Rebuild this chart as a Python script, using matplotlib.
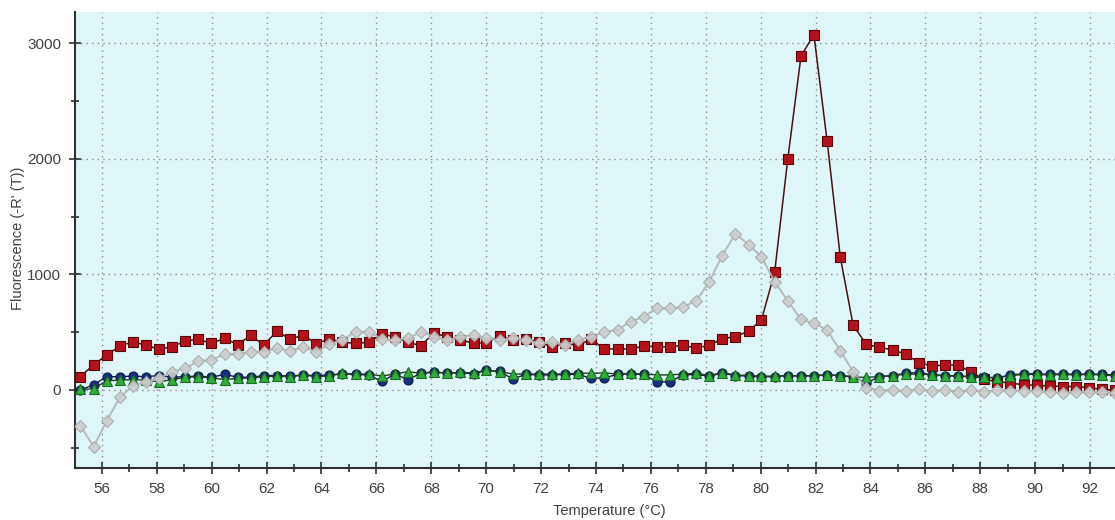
import matplotlib
matplotlib.use("Agg")
import matplotlib.pyplot as plt
from matplotlib.ticker import MultipleLocator, FixedLocator

plt.rcParams['font.family'] = ['Liberation Sans', 'DejaVu Sans']

temperature = [
    55.22, 55.70, 56.17, 56.65, 57.13, 57.61, 58.08, 58.56, 59.04, 59.51,
    59.99, 60.47, 60.95, 61.42, 61.90, 62.38, 62.86, 63.33, 63.81, 64.29,
    64.76, 65.24, 65.72, 66.20, 66.67, 67.15, 67.63, 68.10, 68.58, 69.06,
    69.54, 70.01, 70.49, 70.97, 71.44, 71.92, 72.40, 72.88, 73.35, 73.83,
    74.31, 74.79, 75.26, 75.74, 76.22, 76.69, 77.17, 77.65, 78.13, 78.60,
    79.08, 79.56, 80.03, 80.51, 80.99, 81.47, 81.94, 82.42, 82.90, 83.37,
    83.85, 84.33, 84.81, 85.28, 85.76, 86.24, 86.72, 87.19, 87.67, 88.15,
    88.62, 89.10, 89.58, 90.06, 90.53, 91.01, 91.49, 91.96, 92.44, 92.92,
]

red_sample = [
    115, 219, 300, 380, 418, 386, 352, 374, 424, 438,
    403, 447, 392, 473, 388, 510, 438, 476, 400, 444,
    412, 404, 412, 484, 461, 412, 383, 496, 456, 433,
    404, 409, 467, 433, 438, 418, 369, 404, 386, 440,
    352, 357, 352, 381, 372, 375, 386, 363, 386, 444,
    461, 510, 606, 1018, 2001, 2889, 3074, 2157, 1153, 559,
    395, 369, 346, 311, 236, 208, 215, 216, 153, 92,
    72, 60, 45, 40, 35, 30, 30, 20, 5, 0,
]

grey_sample = [
    -310, -490, -270, -65, 35, 70, 100, 158, 187, 250,
    260, 307, 314, 331, 330, 360, 340, 370, 331, 395,
    432, 504, 504, 438, 432, 447, 504, 461, 432, 456,
    476, 447, 432, 447, 432, 404, 418, 389, 432, 461,
    500, 520, 591, 634, 707, 705, 718, 770, 937, 1163,
    1352, 1258, 1153, 937, 770, 611, 577, 519, 340, 158,
    20, -5, 0, -10, 5, -10, 0, -15, 0, -15,
    0, -5, -5, -10, -20, -25, -20, -15, -20, -25,
]

green_sample = [
    5, 10, 80, 85, 90, 85, 70, 90, 110, 115,
    105, 90, 100, 105, 115, 120, 115, 130, 115, 121,
    144, 138, 138, 121, 138, 158, 144, 158, 144, 153,
    147, 173, 158, 138, 138, 138, 138, 138, 147, 144,
    147, 138, 144, 138, 130, 130, 138, 144, 125, 150,
    130, 125, 120, 120, 125, 120, 125, 130, 125, 110,
    110, 115, 125, 135, 140, 130, 125, 120, 115, 110,
    105, 125, 135, 135, 130, 135, 130, 135, 130, 125,
]

blue_sample = [
    0, 45, 115, 115, 120, 115, 125, 110, 115, 120,
    110, 135, 110, 110, 125, 125, 120, 130, 125, 130,
    140, 135, 130, 75, 135, 90, 145, 155, 145, 150,
    140, 170, 160, 95, 135, 130, 130, 135, 135, 100,
    105, 135, 140, 135, 70, 70, 130, 135, 120, 145,
    125, 120, 115, 115, 125, 120, 125, 130, 125, 115,
    60, 115, 125, 145, 150, 130, 125, 120, 115, 110,
    105, 130, 140, 140, 135, 140, 135, 140, 135, 130,
]

x_major = list(range(56, 93, 2))
y_major = [0, 1000, 2000, 3000]

fig = plt.figure(figsize=(11.15, 5.2), dpi=100)
ax = fig.add_axes([75 / 1115, 52 / 520, 1040 / 1115, 456 / 520])
ax.set_facecolor('#dff6f9')

ax.plot(temperature, red_sample, color='#4a1010', lw=1.1, marker='s', ms=7,
        mfc='#b3121c', mec='#5a0505', mew=0.8, zorder=3)
ax.plot(temperature, blue_sample, color='#1a1a3a', lw=1.0, marker='o', ms=6.5,
        mfc='#14307f', mec='#0a1a50', mew=0.8, zorder=4)
ax.plot(temperature, green_sample, color='#1f3f1f', lw=1.0, marker='^', ms=7.5,
        mfc='#2fae3c', mec='#1d6b24', mew=0.8, zorder=5)
ax.plot(temperature, grey_sample, color='#b4b4b4', lw=1.4, marker='D', ms=6,
        mfc='#cdcdcd', mec='#a8a8a8', mew=0.8, alpha=0.9, zorder=6)

ax.set_xlim(55.02, 92.91)
ax.set_ylim(-675, 3270)

ax.xaxis.set_major_locator(FixedLocator(x_major))
ax.xaxis.set_minor_locator(MultipleLocator(1))
ax.yaxis.set_major_locator(FixedLocator(y_major))
ax.yaxis.set_minor_locator(MultipleLocator(500))

ax.grid(True, which='major', color='#8c8c8c', linestyle=(0, (1, 3)), lw=1.0, zorder=1)
ax.set_axisbelow(True)

for side in ('top', 'right'):
    ax.spines[side].set_visible(False)
for side in ('left', 'bottom'):
    ax.spines[side].set_color('#303030')
    ax.spines[side].set_linewidth(1.5)

ax.tick_params(which='major', direction='inout', length=8, width=1.2, color='#303030',
               labelsize=11, labelcolor='#404040', pad=6)
ax.tick_params(which='minor', direction='inout', length=6, width=1.2, color='#303030')

ax.set_xlabel('Temperature (°C)', fontsize=10.5, color='#404040')
ax.set_ylabel("Fluorescence (-R' (T))", fontsize=10.5, color='#404040')
ax.xaxis.set_label_coords((609 - 75) / 1040, -(504 - 468) / 456)
ax.yaxis.set_label_coords(-(75 - 25) / 1040, (468 - 238) / 456)

fig.savefig('out.png', dpi=100)
